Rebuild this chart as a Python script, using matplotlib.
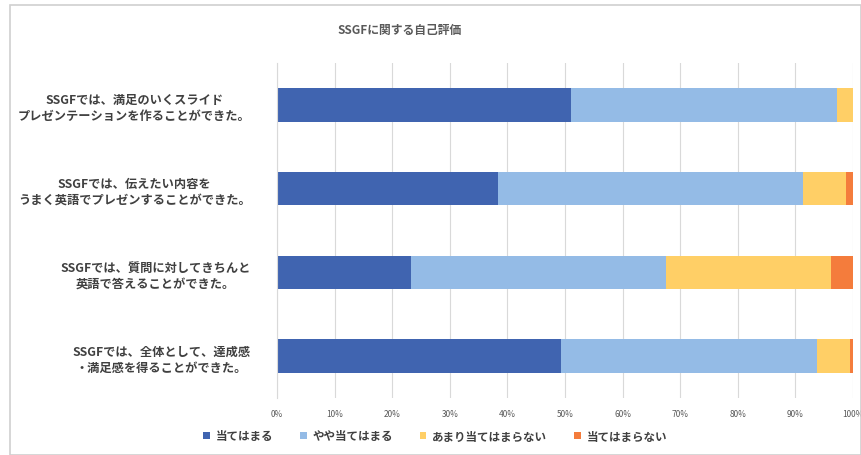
import matplotlib.pyplot as plt
import numpy as np
from matplotlib.patches import Rectangle

plt.rcParams['font.family'] = ['Noto Sans CJK JP', 'DejaVu Sans']

title = 'SSGFに関する自己評価'
questions = [
    'SSGFでは、満足のいくスライド\nプレゼンテーションを作ることができた。',
    'SSGFでは、伝えたい内容を\nうまく英語でプレゼンすることができた。',
    'SSGFでは、質問に対してきちんと\n英語で答えることができた。',
    'SSGFでは、全体として、達成感\n・満足感を得ることができた。',
]
answers = ['当てはまる', 'やや当てはまる', 'あまり当てはまらない', '当てはまらない']
colors = ['#4064B0', '#94BBE6', '#FFCF66', '#F47C3C']

# percentage of responses per question (rows) and answer (columns)
shares = np.array([
    [51.0, 46.2, 2.8, 0.0],
    [38.4, 52.9, 7.5, 1.2],
    [23.3, 44.2, 28.7, 3.8],
    [49.3, 44.5, 5.6, 0.6],
])

fig = plt.figure(figsize=(8.61, 4.56), dpi=100)
fig.patches.append(Rectangle((10 / 861, 0), 1 - 10 / 861, 1 - 6 / 456,
                             transform=fig.transFigure, fill=False,
                             edgecolor='#D0D0D0', linewidth=1.2))
ax = fig.add_axes([277 / 861, 57 / 456, 576 / 861, 335 / 456])

y = np.arange(len(questions))
left = np.zeros(len(questions))
for j, ans in enumerate(answers):
    ax.barh(y, shares[:, j], left=left, height=0.4, color=colors[j], label=ans)
    left += shares[:, j]

ax.set_xlim(0, 100)
ax.set_ylim(len(questions) - 0.5, -0.5)
ax.set_xticks(np.arange(0, 101, 10))
ax.set_xticklabels([f'{v}%' for v in range(0, 101, 10)], fontsize=6, color='#595959')
ax.set_yticks(y)
ax.set_yticklabels(questions, fontsize=8.8, fontweight='bold', color='#404040',
                   multialignment='center', linespacing=1.3)
ax.tick_params(axis='both', length=0)
ax.tick_params(axis='y', pad=19)
ax.tick_params(axis='x', pad=8)
ax.grid(axis='x', color='#D9D9D9', linewidth=0.8)
ax.set_axisbelow(True)
for s in ['top', 'right', 'bottom']:
    ax.spines[s].set_visible(False)
ax.spines['left'].set_color('#D9D9D9')

fig.text(400 / 861, 1 - 30 / 456, title, ha='center', va='center',
         fontsize=8.5, fontweight='bold', color='#595959')
fig.legend(loc='center', bbox_to_anchor=(435 / 861, 1 - 437 / 456), ncol=4,
           frameon=False, prop={'size': 8.3, 'weight': 'bold'},
           handlelength=0.6, handleheight=0.6,
           columnspacing=2.3, handletextpad=0.5,
           labelcolor='#404040')

fig.savefig('out.png', dpi=100)
